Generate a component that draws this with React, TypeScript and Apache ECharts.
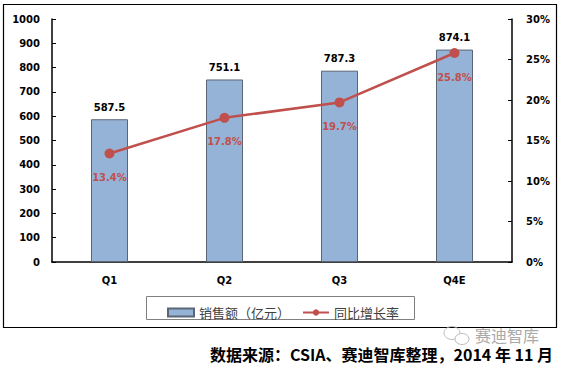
import React, { useEffect, useRef } from "react";
import * as echarts from "echarts";

const categories = ["Q1", "Q2", "Q3", "Q4E"];
const salesValues = [587.5, 751.1, 787.3, 874.1];
const growthValues = [13.4, 17.8, 19.7, 25.8];
const barName = "销售额（亿元）";
const lineName = "同比增长率";
const sourceText = "数据来源：CSIA、赛迪智库整理，2014 年 11 月";
const watermarkText = "赛迪智库";

export default function App() {
  const ref = useRef<HTMLDivElement>(null);
  useEffect(() => {
    document.body.style.margin = "0";
    const chart = echarts.init(ref.current!, null, { renderer: "svg" });
    const font = "DejaVu Sans";
    const tick = {
      fontFamily: font,
      fontWeight: "bold",
      fontSize: 10,
      color: "#000",
    };
    chart.setOption({
      animation: false,
      backgroundColor: "#fff",
      grid: { left: 52, right: 50, top: 19, bottom: 105 },
      legend: {
        left: 162,
        top: 301,
        itemWidth: 26,
        itemHeight: 8,
        itemGap: 12,
        textStyle: { fontSize: 13, color: "#404040", fontFamily: "Noto Sans CJK SC" },
        data: [
          { name: barName, icon: "rect" },
          { name: lineName },
        ],
      },
      xAxis: {
        type: "category",
        data: categories,
        boundaryGap: true,
        axisLine: { lineStyle: { color: "#000", width: 1.5 } },
        axisTick: { inside: true, length: 4, lineStyle: { color: "#000" } },
        axisLabel: { ...tick, margin: 13 },
      },
      yAxis: [
        {
          type: "value",
          min: 0,
          max: 1000,
          interval: 100,
          splitLine: { show: false },
          axisLine: { show: true, lineStyle: { color: "#000", width: 1.5 } },
          axisTick: { show: true, inside: true, length: 4, lineStyle: { color: "#000" } },
          axisLabel: { ...tick, margin: 12, formatter: (v: number) => String(v) },
        },
        {
          type: "value",
          min: 0,
          max: 30,
          interval: 5,
          position: "right",
          splitLine: { show: false },
          axisLine: { show: true, lineStyle: { color: "#000", width: 1.5 } },
          axisTick: { show: true, inside: true, length: 4, lineStyle: { color: "#000" } },
          axisLabel: { ...tick, margin: 14, formatter: "{value}%" },
        },
      ],
      series: [
        {
          name: barName,
          type: "bar",
          data: salesValues,
          barWidth: 37,
          itemStyle: { color: "#95B3D7", borderColor: "#5A6675", borderWidth: 1 },
          label: { show: true, position: "top", distance: 7, ...tick },
        },
        {
          name: lineName,
          type: "line",
          yAxisIndex: 1,
          data: growthValues,
          symbol: "circle",
          symbolSize: 10,
          lineStyle: { color: "#C0504D", width: 2.5 },
          itemStyle: { color: "#C0504D" },
          label: {
            show: true,
            position: "bottom",
            distance: 14,
            ...tick,
            color: "#C0504D",
            formatter: "{c}%",
          },
        },
      ],
      graphic: [
        {
          type: "rect",
          shape: { x: 3.5, y: 4.5, width: 553, height: 323 },
          style: { fill: "none", stroke: "#000", lineWidth: 1.2 },
          silent: true,
        },
        {
          type: "rect",
          shape: { x: 146.5, y: 296.5, width: 268, height: 23 },
          style: { fill: "none", stroke: "#808080", lineWidth: 1 },
          silent: true,
        },
        {
          type: "ellipse",
          shape: { cx: 452, cy: 333, rx: 8, ry: 6.5 },
          style: { fill: "none", stroke: "#bbb", lineWidth: 1 },
          silent: true,
        },
        {
          type: "ellipse",
          shape: { cx: 462, cy: 339, rx: 7, ry: 5.5 },
          style: { fill: "#fff", stroke: "#bbb", lineWidth: 1 },
          silent: true,
        },
        {
          type: "text",
          x: 475,
          y: 335,
          style: {
            text: watermarkText,
            font: "16px 'Noto Sans CJK SC'",
            fill: "#aaa",
            textVerticalAlign: "middle",
          },
          silent: true,
        },
        {
          type: "text",
          x: 210,
          y: 354,
          style: {
            text: sourceText,
            font: "bold 16px 'Noto Sans CJK SC', 'Liberation Sans'",
            fill: "#000",
            textVerticalAlign: "middle",
          },
          silent: true,
        },
      ],
    });
    return () => chart.dispose();
  }, []);
  return <div ref={ref} style={{ width: 562, height: 367 }} />;
}
